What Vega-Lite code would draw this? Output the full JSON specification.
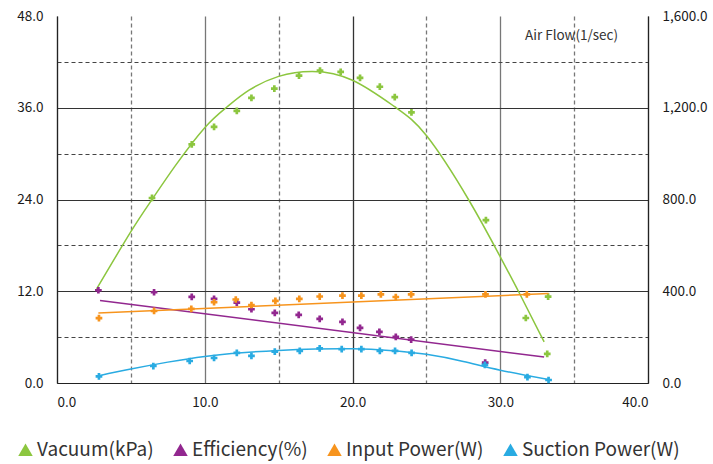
{
  "$schema": "https://vega.github.io/schema/vega-lite/v6.json",
  "autosize": "none",
  "width": 591,
  "height": 367,
  "padding": {"left": 57, "top": 16, "right": 65, "bottom": 81},
  "background": "white",
  "config": {
    "view": {"stroke": null},
    "font": "Noto Sans CJK KR",
    "axis": {
      "labelFont": "Noto Sans CJK KR",
      "labelFontSize": 13.5,
      "labelColor": "#1a1a1a",
      "ticks": false,
      "domainColor": "#222",
      "domainWidth": 1.2
    }
  },
  "datasets": {
    "left": [
      {"series": "Vacuum(kPa)", "kind": "pt", "flow": 6.43, "val": 24.2},
      {"series": "Vacuum(kPa)", "kind": "pt", "flow": 9.12, "val": 31.2},
      {"series": "Vacuum(kPa)", "kind": "pt", "flow": 10.63, "val": 33.5},
      {"series": "Vacuum(kPa)", "kind": "pt", "flow": 12.17, "val": 35.6},
      {"series": "Vacuum(kPa)", "kind": "pt", "flow": 13.16, "val": 37.3},
      {"series": "Vacuum(kPa)", "kind": "pt", "flow": 14.71, "val": 38.5},
      {"series": "Vacuum(kPa)", "kind": "pt", "flow": 16.38, "val": 40.2},
      {"series": "Vacuum(kPa)", "kind": "pt", "flow": 17.8, "val": 40.85},
      {"series": "Vacuum(kPa)", "kind": "pt", "flow": 19.2, "val": 40.7},
      {"series": "Vacuum(kPa)", "kind": "pt", "flow": 20.51, "val": 39.9},
      {"series": "Vacuum(kPa)", "kind": "pt", "flow": 21.85, "val": 38.75},
      {"series": "Vacuum(kPa)", "kind": "pt", "flow": 22.86, "val": 37.4},
      {"series": "Vacuum(kPa)", "kind": "pt", "flow": 23.99, "val": 35.4},
      {"series": "Vacuum(kPa)", "kind": "pt", "flow": 29.03, "val": 21.3},
      {"series": "Vacuum(kPa)", "kind": "pt", "flow": 31.73, "val": 8.5},
      {"series": "Vacuum(kPa)", "kind": "pt", "flow": 33.24, "val": 11.3},
      {"series": "Vacuum(kPa)", "kind": "pt", "flow": 33.18, "val": 3.8},
      {"series": "Vacuum(kPa)", "kind": "fit", "flow": 2.68, "val": 12.3},
      {"series": "Vacuum(kPa)", "kind": "fit", "flow": 5.0, "val": 19.8},
      {"series": "Vacuum(kPa)", "kind": "fit", "flow": 6.43, "val": 24.0},
      {"series": "Vacuum(kPa)", "kind": "fit", "flow": 8.0, "val": 28.4},
      {"series": "Vacuum(kPa)", "kind": "fit", "flow": 10.0, "val": 33.4},
      {"series": "Vacuum(kPa)", "kind": "fit", "flow": 11.5, "val": 36.1},
      {"series": "Vacuum(kPa)", "kind": "fit", "flow": 13.0, "val": 38.3},
      {"series": "Vacuum(kPa)", "kind": "fit", "flow": 15.0, "val": 40.1},
      {"series": "Vacuum(kPa)", "kind": "fit", "flow": 17.3, "val": 40.75},
      {"series": "Vacuum(kPa)", "kind": "fit", "flow": 20.0, "val": 39.6},
      {"series": "Vacuum(kPa)", "kind": "fit", "flow": 22.88, "val": 36.1},
      {"series": "Vacuum(kPa)", "kind": "fit", "flow": 25.03, "val": 32.3},
      {"series": "Vacuum(kPa)", "kind": "fit", "flow": 27.85, "val": 24.0},
      {"series": "Vacuum(kPa)", "kind": "fit", "flow": 30.0, "val": 16.5},
      {"series": "Vacuum(kPa)", "kind": "fit", "flow": 31.28, "val": 11.8},
      {"series": "Vacuum(kPa)", "kind": "fit", "flow": 32.97, "val": 5.37},
      {"series": "Efficiency(%)", "kind": "pt", "flow": 2.8, "val": 12.13},
      {"series": "Efficiency(%)", "kind": "pt", "flow": 6.57, "val": 11.87},
      {"series": "Efficiency(%)", "kind": "pt", "flow": 9.12, "val": 11.26},
      {"series": "Efficiency(%)", "kind": "pt", "flow": 10.63, "val": 11.0},
      {"series": "Efficiency(%)", "kind": "pt", "flow": 12.17, "val": 10.52},
      {"series": "Efficiency(%)", "kind": "pt", "flow": 13.16, "val": 9.65},
      {"series": "Efficiency(%)", "kind": "pt", "flow": 14.74, "val": 9.17},
      {"series": "Efficiency(%)", "kind": "pt", "flow": 16.36, "val": 8.9},
      {"series": "Efficiency(%)", "kind": "pt", "flow": 17.78, "val": 8.38},
      {"series": "Efficiency(%)", "kind": "pt", "flow": 19.32, "val": 7.99},
      {"series": "Efficiency(%)", "kind": "pt", "flow": 20.51, "val": 7.2},
      {"series": "Efficiency(%)", "kind": "pt", "flow": 21.82, "val": 6.68},
      {"series": "Efficiency(%)", "kind": "pt", "flow": 22.93, "val": 6.03},
      {"series": "Efficiency(%)", "kind": "pt", "flow": 23.97, "val": 5.68},
      {"series": "Efficiency(%)", "kind": "pt", "flow": 28.98, "val": 2.67},
      {"series": "Efficiency(%)", "kind": "fit", "flow": 2.91, "val": 10.79},
      {"series": "Efficiency(%)", "kind": "fit", "flow": 32.97, "val": 3.4}
    ],
    "right": [
      {"series": "Input Power(W)", "kind": "pt", "flow": 2.84, "val": 283},
      {"series": "Input Power(W)", "kind": "pt", "flow": 6.57, "val": 314},
      {"series": "Input Power(W)", "kind": "pt", "flow": 9.09, "val": 323},
      {"series": "Input Power(W)", "kind": "pt", "flow": 10.63, "val": 352},
      {"series": "Input Power(W)", "kind": "pt", "flow": 12.1, "val": 364},
      {"series": "Input Power(W)", "kind": "pt", "flow": 13.16, "val": 340},
      {"series": "Input Power(W)", "kind": "pt", "flow": 14.78, "val": 358},
      {"series": "Input Power(W)", "kind": "pt", "flow": 16.4, "val": 367},
      {"series": "Input Power(W)", "kind": "pt", "flow": 17.78, "val": 377},
      {"series": "Input Power(W)", "kind": "pt", "flow": 19.32, "val": 381},
      {"series": "Input Power(W)", "kind": "pt", "flow": 20.6, "val": 381},
      {"series": "Input Power(W)", "kind": "pt", "flow": 21.92, "val": 386},
      {"series": "Input Power(W)", "kind": "pt", "flow": 22.93, "val": 375},
      {"series": "Input Power(W)", "kind": "pt", "flow": 23.97, "val": 386},
      {"series": "Input Power(W)", "kind": "pt", "flow": 29.0, "val": 386},
      {"series": "Input Power(W)", "kind": "pt", "flow": 31.8, "val": 386},
      {"series": "Input Power(W)", "kind": "fit", "flow": 2.8, "val": 305},
      {"series": "Input Power(W)", "kind": "fit", "flow": 33.27, "val": 390},
      {"series": "Suction Power(W)", "kind": "pt", "flow": 2.84, "val": 29},
      {"series": "Suction Power(W)", "kind": "pt", "flow": 6.52, "val": 74},
      {"series": "Suction Power(W)", "kind": "pt", "flow": 8.98, "val": 96},
      {"series": "Suction Power(W)", "kind": "pt", "flow": 10.63, "val": 109},
      {"series": "Suction Power(W)", "kind": "pt", "flow": 12.17, "val": 131},
      {"series": "Suction Power(W)", "kind": "pt", "flow": 13.16, "val": 118},
      {"series": "Suction Power(W)", "kind": "pt", "flow": 14.74, "val": 137},
      {"series": "Suction Power(W)", "kind": "pt", "flow": 16.43, "val": 140},
      {"series": "Suction Power(W)", "kind": "pt", "flow": 17.78, "val": 151},
      {"series": "Suction Power(W)", "kind": "pt", "flow": 19.27, "val": 148},
      {"series": "Suction Power(W)", "kind": "pt", "flow": 20.6, "val": 148},
      {"series": "Suction Power(W)", "kind": "pt", "flow": 21.85, "val": 140},
      {"series": "Suction Power(W)", "kind": "pt", "flow": 22.88, "val": 140},
      {"series": "Suction Power(W)", "kind": "pt", "flow": 24.0, "val": 131},
      {"series": "Suction Power(W)", "kind": "pt", "flow": 28.96, "val": 79},
      {"series": "Suction Power(W)", "kind": "pt", "flow": 31.84, "val": 26},
      {"series": "Suction Power(W)", "kind": "pt", "flow": 33.27, "val": 13},
      {"series": "Suction Power(W)", "kind": "fit", "flow": 2.84, "val": 32},
      {"series": "Suction Power(W)", "kind": "fit", "flow": 5.0, "val": 61},
      {"series": "Suction Power(W)", "kind": "fit", "flow": 7.5, "val": 91},
      {"series": "Suction Power(W)", "kind": "fit", "flow": 10.0, "val": 116},
      {"series": "Suction Power(W)", "kind": "fit", "flow": 12.5, "val": 132},
      {"series": "Suction Power(W)", "kind": "fit", "flow": 15.0, "val": 142},
      {"series": "Suction Power(W)", "kind": "fit", "flow": 17.5, "val": 148},
      {"series": "Suction Power(W)", "kind": "fit", "flow": 20.0, "val": 149},
      {"series": "Suction Power(W)", "kind": "fit", "flow": 22.5, "val": 142},
      {"series": "Suction Power(W)", "kind": "fit", "flow": 25.0, "val": 125},
      {"series": "Suction Power(W)", "kind": "fit", "flow": 27.5, "val": 94},
      {"series": "Suction Power(W)", "kind": "fit", "flow": 30.0, "val": 56},
      {"series": "Suction Power(W)", "kind": "fit", "flow": 33.27, "val": 15}
    ]
  },
  "layer": [
    {
      "data": {"name": "left"},
      "encoding": {
        "x": {
          "field": "flow", "type": "quantitative",
          "scale": {"domain": [0, 40], "nice": false},
          "axis": {
            "values": [0, 5, 10, 15, 20, 25, 30, 35, 40],
            "labelExpr": "datum.value % 10 === 0 ? format(datum.value, '.1f') : ''",
            "labelPadding": 12,
            "labelOverlap": false,
            "grid": true,
            "gridDash": {"condition": {"test": "datum.value % 10 === 0", "value": []}, "value": [4, 3]},
            "gridColor": {"condition": {"test": "datum.value === 20", "value": "#333"}, "value": "#777"},
            "gridWidth": 1.3,
            "title": "Air Flow(1/sec)",
            "titleFont": "Noto Sans CJK KR",
            "titleFontSize": 13.5,
            "titleFontWeight": "normal",
            "titleColor": "#333",
            "titleAnchor": "start",
            "titleAlign": "center",
            "titleBaseline": "middle",
            "titleX": 514,
            "titleY": -348
          }
        },
        "y": {
          "field": "val", "type": "quantitative",
          "scale": {"domain": [0, 48], "nice": false},
          "axis": {
            "values": [0, 6, 12, 18, 24, 30, 36, 42, 48],
            "labelExpr": "datum.value % 12 === 0 ? format(datum.value, '.1f') : ''",
            "labelPadding": 14,
            "labelOverlap": false,
            "grid": true,
            "gridDash": {"condition": {"test": "datum.value % 12 === 0", "value": []}, "value": [4, 3]},
            "gridColor": {"condition": {"test": "datum.value % 12 === 0", "value": "#333"}, "value": "#444"},
            "gridOpacity": {"condition": {"test": "datum.value === 48", "value": 0}, "value": 1},
            "gridWidth": 1.2,
            "title": null
          }
        },
        "color": {
          "field": "series", "type": "nominal",
          "scale": {
            "domain": ["Vacuum(kPa)", "Efficiency(%)", "Input Power(W)", "Suction Power(W)"],
            "range": ["#8cc63f", "#92278f", "#f7941d", "#29abe2"]
          },
          "legend": {
            "orient": "none",
            "direction": "horizontal",
            "legendX": -41,
            "legendY": 424,
            "title": null,
            "symbolType": "triangle-up",
            "symbolSize": 210,
            "symbolStrokeWidth": 0,
            "symbolOpacity": 1,
            "labelFont": "Noto Sans CJK KR",
            "labelFontSize": 19,
            "labelColor": "#333",
            "labelOffset": 2,
            "columnPadding": 17,
            "labelLimit": 300,
            "encode": {
              "symbols": {"update": {"fill": {"scale": "color", "field": "value"}, "strokeWidth": {"value": 0}}}
            }
          }
        }
      },
      "layer": [
        {"transform": [{"filter": "datum.kind === 'fit'"}], "mark": {"type": "line", "interpolate": "natural", "strokeWidth": 1.5}, "encoding": {"detail": {"field": "series"}}},
        {"transform": [{"filter": "datum.kind === 'pt'"}], "mark": {"type": "point", "shape": "cross", "filled": true, "size": 45, "opacity": 1}}
      ]
    },
    {
      "data": {"name": "right"},
      "encoding": {
        "x": {"field": "flow", "type": "quantitative", "scale": {"domain": [0, 40], "nice": false}},
        "y": {
          "field": "val", "type": "quantitative",
          "scale": {"domain": [0, 1600], "nice": false},
          "axis": {
            "orient": "right",
            "values": [0, 400, 800, 1200, 1600],
            "format": ",.1f",
            "labelPadding": 14,
            "grid": false,
            "title": null
          }
        },
        "color": {"field": "series", "type": "nominal"}
      },
      "layer": [
        {"transform": [{"filter": "datum.kind === 'fit'"}], "mark": {"type": "line", "interpolate": "natural", "strokeWidth": 1.5}, "encoding": {"detail": {"field": "series"}}},
        {"transform": [{"filter": "datum.kind === 'pt'"}], "mark": {"type": "point", "shape": "cross", "filled": true, "size": 45, "opacity": 1}}
      ]
    }
  ],
  "resolve": {"scale": {"y": "independent"}, "axis": {"y": "independent"}}
}
